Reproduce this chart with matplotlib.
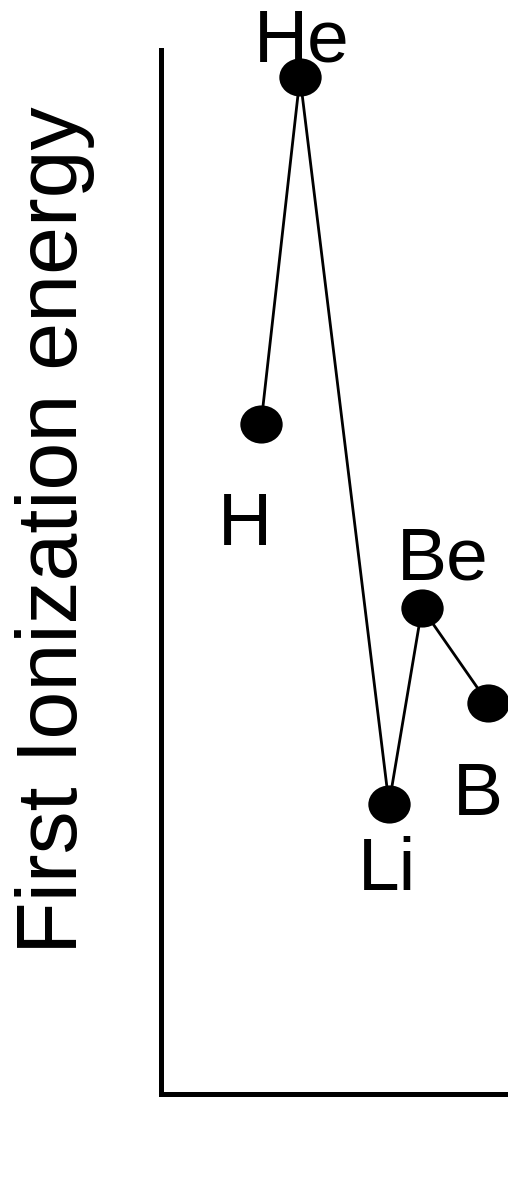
import matplotlib
matplotlib.use('Agg')
import matplotlib.pyplot as plt
from matplotlib.path import Path
from matplotlib.transforms import Affine2D

plt.rcParams['font.family'] = ['Liberation Sans', 'DejaVu Sans']

# data (arbitrary units)
elements = ['H', 'He', 'Li', 'Be', 'B']
xpos = [1.00, 1.39, 2.28, 2.61, 3.27]
energy = [6.70, 10.17, 2.90, 4.86, 3.91]
# label offsets from each point, in pixels (dx, dy; up is positive)
label_off = [(-16, -121), (2, 16), (-2, -86), (21, 28), (-10, -112)]

W, H = 508, 1203
fig = plt.figure(figsize=(W / 100, H / 100), dpi=100)
ax = fig.add_axes([161 / W, 1 - 1094 / H, (508 - 161) / W, (1094 - 50) / H])
ax.set_xlim(0, 3.47)
ax.set_ylim(0, 10.44)

# slightly flattened dot, like the original
dot = Path.unit_circle().transformed(Affine2D().scale(1.0, 0.9))

ax.plot(xpos, energy, color='black', lw=2.0, zorder=2, clip_on=False)
ax.plot(xpos, energy, linestyle='none', marker=dot, color='black', ms=30.5, mew=0,
        zorder=3, clip_on=False)

for name, x, y, (dx, dy) in zip(elements, xpos, energy, label_off):
    ax.annotate(name, (x, y), xytext=(dx * 0.72, dy * 0.72), textcoords='offset points',
                ha='center', va='baseline', fontsize=54, annotation_clip=False)

for s in ['top', 'right']:
    ax.spines[s].set_visible(False)
for s in ['left', 'bottom']:
    ax.spines[s].set_linewidth(3.6)
ax.set_xticks([])
ax.set_yticks([])

fig.text(77 / W, 1 - 530 / H, 'First Ionization energy', rotation=90, rotation_mode='anchor',
         ha='center', va='baseline', fontsize=62)

fig.savefig('out.png', dpi=100)
